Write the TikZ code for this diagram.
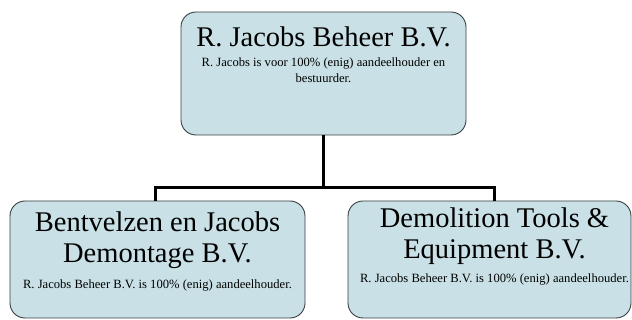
\documentclass[tikz,border=0pt]{standalone}
\usepackage{fontspec}
\setmainfont{Liberation Serif}
\usetikzlibrary{positioning}
\definecolor{boxblue}{RGB}{201,225,230}
\definecolor{boxline}{RGB}{55,62,64}

\tikzset{
  unit/.style={draw=boxline, fill=boxblue, rounded corners=15pt, line width=0.9pt, minimum height=117pt},
  firmname/.style={anchor=base, inner sep=0pt, align=center, font=\fontsize{28.5}{31}\selectfont},
  firminfo/.style={anchor=base, inner sep=0pt, align=center, font=\fontsize{12.6}{16.5}\selectfont},
  link/.style={line width=3pt}
}

\begin{document}
\begin{tikzpicture}[x=1pt,y=1pt]
    \useasboundingbox (0,0) rectangle (632,320);

    % boxes
    \node[unit, minimum width=285pt, minimum height=123pt] (beheer) at (323.5,246.5) {};
    \node[unit, minimum width=295pt] (bentvelzen) at (157.5,60.5) {};
    \node[unit, minimum width=283pt] (demolition) at (489.5,60.5) {};

    % texts
    \node[firmname] (beheername) at ([yshift=-35pt]beheer.north) {R. Jacobs Beheer B.V.};
    \node[firminfo] (beheerinfo) at ([yshift=-71pt]beheer.north) {R. Jacobs is voor 100\% (enig) aandeelhouder en\\bestuurder.};
    \node[firmname] (bentvelzenname) at ([yshift=-62pt]bentvelzen.north) {Bentvelzen en Jacobs\\Demontage B.V.};
    \node[firminfo] (bentvelzeninfo) at ([yshift=-88pt]bentvelzen.north) {R. Jacobs Beheer B.V. is 100\% (enig) aandeelhouder.};
    \node[firmname] (demolitionname) at ([xshift=5pt,yshift=-58pt]demolition.north) {Demolition Tools \&\\Equipment B.V.};
    \node[firminfo] (demolitioninfo) at ([xshift=5pt,yshift=-82pt]demolition.north) {R. Jacobs Beheer B.V. is 100\% (enig) aandeelhouder.};

    % connectors
    \draw[link] (beheer.south) -- ++(0,-52) coordinate (bus);
    \draw[link] (bus) -| ([xshift=-2.5pt]bentvelzen.north);
    \draw[link] (bus) -| ([xshift=4.5pt]demolition.north);
\end{tikzpicture}
\end{document}
